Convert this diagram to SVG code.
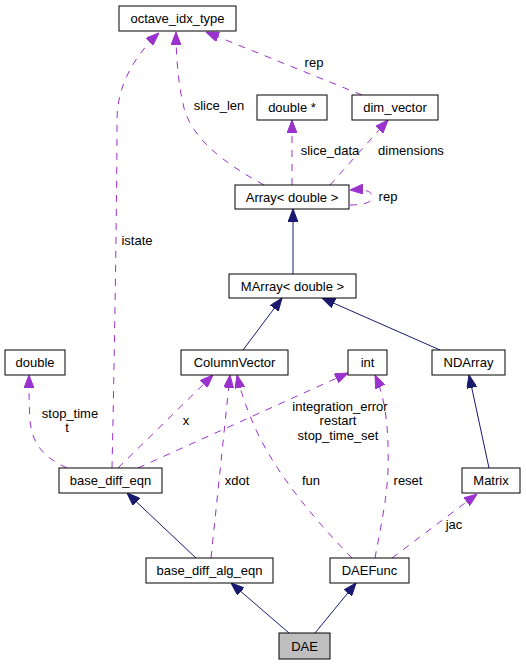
<svg xmlns="http://www.w3.org/2000/svg" width="526" height="665" viewBox="0 0 526 665">
<defs>
<marker id="an" viewBox="0 0 13 10" markerWidth="13" markerHeight="10" refX="13" refY="5" orient="auto" markerUnits="userSpaceOnUse"><path d="M0,0 L13,5 L0,10 z" fill="#191970" stroke="#191970"/></marker>
<marker id="ap" viewBox="0 0 13 10" markerWidth="13" markerHeight="10" refX="13" refY="5" orient="auto" markerUnits="userSpaceOnUse"><path d="M0,0 L13,5 L0,10 z" fill="#9a32cd" stroke="#9a32cd"/></marker>
</defs>
<style>
.n rect{fill:#fff;stroke:#000;stroke-width:1}
.n text,.l{font-family:"Liberation Sans",Arial,sans-serif;font-size:13px;fill:#000;text-anchor:middle}
.s{fill:none;stroke:#191970;stroke-width:1;marker-end:url(#an)}
.d{fill:none;stroke:#9a32cd;stroke-width:1;stroke-dasharray:7,7;marker-end:url(#ap)}
</style>
<rect width="526" height="665" fill="#fff"/>
<g id="edges">
<path class="s" d="M293,274 L293,209"/>
<path class="s" d="M243,350 L282,298"/>
<path class="s" d="M440,350 L322,298"/>
<path class="s" d="M489,468 L469,375"/>
<path class="s" d="M196,558 L127,493"/>
<path class="s" d="M289,633 L231,583"/>
<path class="s" d="M315,633 L356,583"/>
<path class="d" d="M112,468 C114,380 117,200 117,120 C117,85 135,55 159,33"/>
<path class="d" d="M264,185 C222,162 192,138 184,108 C179,88 176,60 176,32"/>
<path class="d" d="M362,95 L206,32"/>
<path class="d" d="M292,185 L292,120"/>
<path class="d" d="M330,185 L388,120"/>
<path class="d" d="M350,205 C362,205 372,203 372,197 C372,191 365,189 350,190"/>
<path class="d" d="M67,468 C45,458 32,445 30,420 C29,405 29,392 29,375"/>
<path class="d" d="M118,468 L213,375"/>
<path class="d" d="M138,468 L348,373"/>
<path class="d" d="M211,558 L230,375"/>
<path class="d" d="M352,558 C320,525 280,480 257,432 C247,410 241,393 237,375"/>
<path class="d" d="M375,558 C380,530 387,500 388,470 C389,430 386,400 375,375"/>
<path class="d" d="M392,558 L477,494"/>
<text class="l" x="219" y="110">slice_len</text>
<text class="l" x="314" y="67">rep</text>
<text class="l" x="137" y="245">istate</text>
<text class="l" x="330" y="155">slice_data</text>
<text class="l" x="411" y="155">dimensions</text>
<text class="l" x="388" y="201">rep</text>
<text class="l" x="70" y="418">stop_time</text>
<text class="l" x="67" y="432">t</text>
<text class="l" x="186" y="425">x</text>
<text class="l" x="340" y="411">integration_error</text>
<text class="l" x="338" y="425">restart</text>
<text class="l" x="338" y="440">stop_time_set</text>
<text class="l" x="237" y="485">xdot</text>
<text class="l" x="311" y="485">fun</text>
<text class="l" x="408" y="485">reset</text>
<text class="l" x="454" y="529">jac</text>
</g>
<g id="octave_idx_type" class="n"><rect x="119" y="6" width="117" height="25"/><text x="177.5" y="23">octave_idx_type</text></g>
<g id="double_ptr" class="n"><rect x="257" y="95" width="70" height="25"/><text x="292" y="112">double *</text></g>
<g id="dim_vector" class="n"><rect x="352" y="95" width="86" height="25"/><text x="395" y="112">dim_vector</text></g>
<g id="Array_double" class="n"><rect x="235" y="185" width="114" height="24"/><text x="292" y="202">Array&lt; double &gt;</text></g>
<g id="MArray_double" class="n"><rect x="229" y="274" width="127" height="24"/><text x="292.5" y="291">MArray&lt; double &gt;</text></g>
<g id="double" class="n"><rect x="5" y="350" width="60" height="25"/><text x="35" y="367">double</text></g>
<g id="ColumnVector" class="n"><rect x="181" y="350" width="107" height="25"/><text x="234.5" y="367">ColumnVector</text></g>
<g id="int" class="n"><rect x="348" y="350" width="39" height="25"/><text x="367.5" y="367">int</text></g>
<g id="NDArray" class="n"><rect x="432" y="350" width="73" height="25"/><text x="468.5" y="367">NDArray</text></g>
<g id="base_diff_eqn" class="n"><rect x="59" y="468" width="103" height="25"/><text x="110.5" y="485">base_diff_eqn</text></g>
<g id="Matrix" class="n"><rect x="462" y="468" width="58" height="25"/><text x="491" y="485">Matrix</text></g>
<g id="base_diff_alg_eqn" class="n"><rect x="146" y="558" width="127" height="25"/><text x="209.5" y="575">base_diff_alg_eqn</text></g>
<g id="DAEFunc" class="n"><rect x="330" y="558" width="79" height="25"/><text x="369.5" y="575">DAEFunc</text></g>
<g id="DAE" class="n"><rect x="279" y="633" width="51" height="26" style="fill:#bfbfbf"/><text x="304.5" y="651">DAE</text></g>
</svg>
